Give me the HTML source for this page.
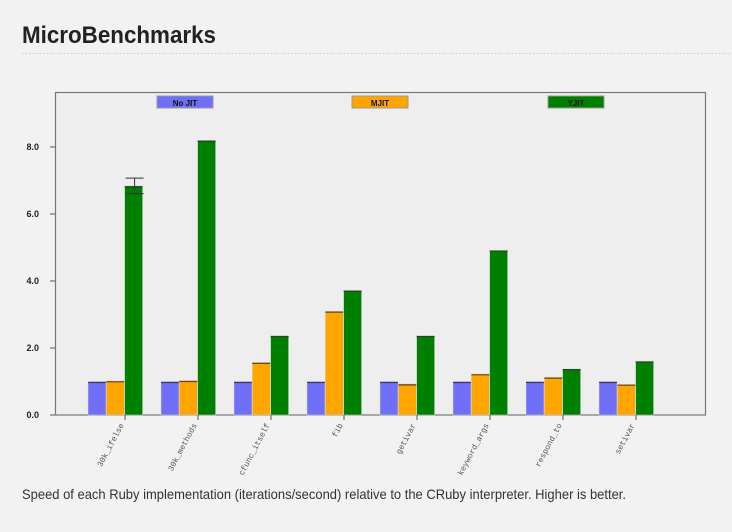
<!DOCTYPE html>
<html><head><meta charset="utf-8"><style>
html,body{margin:0;padding:0;background:#f2f2f2;width:732px;height:532px;overflow:hidden}
svg{display:block}
</style></head><body>
<svg width="732" height="532" viewBox="0 0 732 532" xmlns="http://www.w3.org/2000/svg">
<text x="22" y="43" font-family="Liberation Sans, sans-serif" font-weight="bold" font-size="24" fill="#222" textLength="194" lengthAdjust="spacingAndGlyphs">MicroBenchmarks</text>
<line x1="22" y1="53.5" x2="732" y2="53.5" stroke="#ccc" stroke-dasharray="1.5,2"/>
<rect x="55.5" y="92.5" width="650" height="322.5" fill="#eeeeee" stroke="#777" stroke-width="1.2"/>
<g id="chart"></g>
<text x="22" y="499" font-family="Liberation Sans, sans-serif" font-size="14" fill="#333" textLength="604" lengthAdjust="spacingAndGlyphs">Speed of each Ruby implementation (iterations/second) relative to the CRuby interpreter. Higher is better.</text>
</svg>
<script>
const categories = ["30k_ifelse","30k_methods","cfunc_itself","fib","getivar","keyword_args","respond_to","setivar"];
const seriesNames = ["No JIT","MJIT","YJIT"];
const noJit = [1.0,1.0,1.0,1.0,1.0,1.0,1.0,1.0];
const mjit = [1.02,1.03,1.57,3.1,0.93,1.23,1.13,0.92];
const yjit = [6.84,8.2,2.37,3.72,2.37,4.92,1.38,1.61];
const yjitErrLow = [6.61,8.2,2.37,3.72,2.37,4.92,1.38,1.61];
const yjitErrHigh = [7.07,8.2,2.37,3.72,2.37,4.92,1.38,1.61];
const noJitErrHigh = [1.03,1.0,1.0,1.0,1.0,1.0,1.0,1.0];
const mjitErrHigh = [1.05,1.03,1.57,3.1,0.93,1.23,1.13,0.92];
const yTicks = [0,2,4,6,8];
const yTickLabels = ["0.0","2.0","4.0","6.0","8.0"];

const NS="http://www.w3.org/2000/svg";
const g=document.getElementById('chart');
const colors=["#6f6ff8","#ffa500","#008000"];
const y0=415, unit=33.5;
function yScale(v){return y0-v*unit;}
function xTick(i){return 125+i*73;}
function mk(tag,attrs){const e=document.createElementNS(NS,tag);for(const k in attrs)e.setAttribute(k,attrs[k]);g.appendChild(e);return e;}

yTicks.forEach((t,i)=>{
  const y=yScale(t);
  const l=mk('line',{x1:50,x2:55,y1:y,y2:y,stroke:'#555'});
  
  
  const tx=mk('text',{x:39,y:y+3,'text-anchor':'end','font-family':'Liberation Sans, sans-serif','font-size':'9','font-weight':'bold',fill:'#222'});
  tx.textContent=yTickLabels[i];
  
  
});

const series=[noJit,mjit,yjit];
categories.forEach((c,i)=>{
  const xt=xTick(i);
  series.forEach((s,j)=>{
    const x=xt-37+j*18.3, top=yScale(s[i]);
    const r=mk('rect',{x:x,y:top,width:18,height:y0-top,fill:colors[j],stroke:'#ddd','stroke-width':0.5});
    
    
    const cap=mk('line',{x1:x,x2:x+18,y1:top+1,y2:top+1,stroke:'#333','stroke-width':1.2,opacity:0.8});
    
    
  });
  if(yjitErrHigh[i]-yjitErrLow[i]>0.05){
    const cx=xt+9+0.6;
    const e1=mk('line',{x1:cx,x2:cx,y1:yScale(yjitErrHigh[i]),y2:yScale(yjitErrLow[i]),stroke:'#333'});
    
    
    const e2=mk('line',{x1:cx-9,x2:cx+9,y1:yScale(yjitErrHigh[i]),y2:yScale(yjitErrHigh[i]),stroke:'#333'});
    
    
    const e3=mk('line',{x1:cx-9,x2:cx+9,y1:yScale(yjitErrLow[i]),y2:yScale(yjitErrLow[i]),stroke:'#333'});
    
    
  }
  const tk=mk('line',{x1:xt,x2:xt,y1:y0,y2:y0+5,stroke:'#555'});
  
  
  const lb=mk('text',{x:xt-1,y:y0+10,'text-anchor':'end','font-family':'Liberation Mono, monospace','font-size':'8',fill:'#555',transform:'rotate(-62 '+(xt-1)+' '+(y0+10)+')'});
  lb.textContent=c;
  
  
});

const legendX=[157,352,548];
seriesNames.forEach((n,j)=>{
  const r=mk('rect',{x:legendX[j],y:96,width:56,height:12,fill:colors[j],stroke:'#999','stroke-width':1});
  
  
  const t=mk('text',{x:legendX[j]+28,y:106,'text-anchor':'middle','font-family':'Liberation Sans, sans-serif','font-size':'8','font-weight':'bold',fill:'#111'});
  t.textContent=n;
  
  
});
</script>
</body></html>
